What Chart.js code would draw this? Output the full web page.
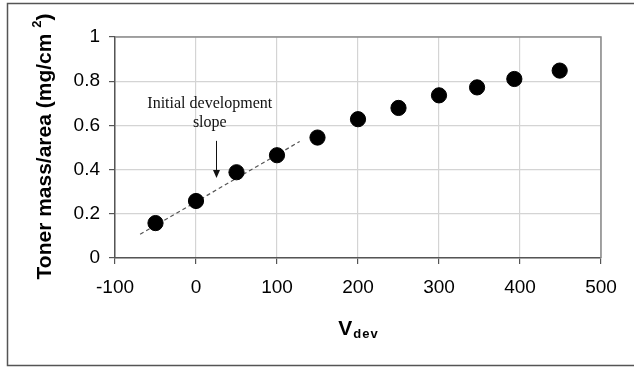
<!DOCTYPE html>
<html>
<head>
<meta charset="utf-8">
<script src="https://cdn.jsdelivr.net/npm/chart.js@4/dist/chart.umd.min.js"></script>
<style>
  html, body { margin: 0; padding: 0; background: #fff; }
  canvas { display: block; }
</style>
</head>
<body>
<canvas id="c" width="634" height="367"></canvas>
<script>
// Development voltage (V) and developed toner mass per area (mg/cm^2)
const vdev = [-50, 0, 50, 100, 150, 200, 250, 300, 347, 393, 449];
const tonerMass = [0.158, 0.258, 0.388, 0.465, 0.545, 0.628, 0.679, 0.736, 0.772, 0.81, 0.848];

// Initial development slope (dashed guide), end points in data units
const slopeX = [-69, 128];
const slopeY = [0.107, 0.527];

// Axis ticks
const xTicks = [-100, 0, 100, 200, 300, 400, 500];
const yTicks = [0, 0.2, 0.4, 0.6, 0.8, 1];
const yTickLabels = ['0', '0.2', '0.4', '0.6', '0.8', '1'];

// Annotation: label lines and arrow, in data units
const noteLines = ['Initial development', 'slope'];
const noteX = 17;
const noteY = [0.699, 0.611];
const arrowX = 25;
const arrowFromY = 0.53;
const arrowToY = 0.362;

const SANS = '"Liberation Sans", Arial, sans-serif';
const SERIF = '"Liberation Serif", "Times New Roman", serif';

const decorations = {
  id: 'decorations',
  beforeDraw(chart) {
    const ctx = chart.ctx;
    ctx.save();
    ctx.fillStyle = '#fff';
    ctx.fillRect(0, 0, chart.width, chart.height);
    // outer frame
    ctx.strokeStyle = '#555';
    ctx.lineWidth = 1.5;
    ctx.beginPath();
    ctx.moveTo(chart.width + 2, 3.5);
    ctx.lineTo(7.5, 3.5);
    ctx.lineTo(7.5, 365.5);
    ctx.lineTo(chart.width + 2, 365.5);
    ctx.stroke();
    ctx.restore();
  },
  beforeDatasetsDraw(chart) {
    const ctx = chart.ctx;
    const a = chart.chartArea;
    ctx.save();
    // top and right edges of the plot area
    ctx.strokeStyle = '#8a8a8a';
    ctx.lineWidth = 1.5;
    ctx.beginPath();
    ctx.moveTo(a.left, a.top);
    ctx.lineTo(a.right, a.top);
    ctx.lineTo(a.right, a.bottom);
    ctx.stroke();
    ctx.restore();
  },
  afterDraw(chart) {
    const ctx = chart.ctx;
    const a = chart.chartArea;
    const xs = chart.scales.x, ys = chart.scales.y;
    ctx.save();

    // y axis title with superscript
    const yMain = 'Toner mass/area (mg/cm ';
    const ySup = '2';
    const yEnd = ')';
    ctx.translate(45, (a.top + a.bottom) / 2 - 1);
    ctx.rotate(-Math.PI / 2);
    ctx.fillStyle = '#000';
    ctx.textBaseline = 'middle';
    ctx.font = 'bold 21px ' + SANS;
    const w1 = ctx.measureText(yMain).width;
    const w3 = ctx.measureText(yEnd).width;
    ctx.font = 'bold 13px ' + SANS;
    const w2 = ctx.measureText(ySup).width;
    let x0 = -(w1 + w2 + w3) / 2;
    ctx.font = 'bold 21px ' + SANS;
    ctx.textAlign = 'left';
    ctx.fillText(yMain, x0, 0);
    ctx.font = 'bold 13px ' + SANS;
    ctx.fillText(ySup, x0 + w1, -8);
    ctx.font = 'bold 21px ' + SANS;
    ctx.fillText(yEnd, x0 + w1 + w2, 0);
    ctx.setTransform(1, 0, 0, 1, 0, 0);

    // x axis title with subscript
    ctx.textBaseline = 'alphabetic';
    ctx.font = 'bold 21px ' + SANS;
    const vW = ctx.measureText('V').width;
    ctx.font = 'bold 13px ' + SANS;
    const dW = ctx.measureText('dev').width + 3;
    const cx = (a.left + a.right) / 2;
    let xx = cx - (vW + dW) / 2;
    ctx.font = 'bold 21px ' + SANS;
    ctx.fillText('V', xx, 335);
    ctx.font = 'bold 13px ' + SANS;
    ctx.letterSpacing = '1px';
    ctx.fillText('dev', xx + vW + 1, 338);
    ctx.letterSpacing = '0px';

    // annotation text
    ctx.font = '16px ' + SERIF;
    ctx.fillStyle = '#111';
    ctx.textAlign = 'center';
    ctx.textBaseline = 'middle';
    noteLines.forEach((t, i) => {
      ctx.fillText(t, xs.getPixelForValue(noteX), ys.getPixelForValue(noteY[i]));
    });

    // arrow
    const ax = Math.round(xs.getPixelForValue(arrowX)) + 0.5;
    const y1 = ys.getPixelForValue(arrowFromY);
    const y2 = ys.getPixelForValue(arrowToY);
    ctx.strokeStyle = '#111';
    ctx.lineWidth = 1;
    ctx.beginPath();
    ctx.moveTo(ax, y1);
    ctx.lineTo(ax, y2 - 6);
    ctx.stroke();
    ctx.fillStyle = '#111';
    ctx.beginPath();
    ctx.moveTo(ax - 3.5, y2 - 8);
    ctx.lineTo(ax + 3.5, y2 - 8);
    ctx.lineTo(ax, y2);
    ctx.closePath();
    ctx.fill();

    ctx.restore();
  }
};

new Chart(document.getElementById('c'), {
  type: 'scatter',
  data: {
    datasets: [
      {
        label: 'Toner mass/area',
        data: vdev.map((v, i) => ({ x: v, y: tonerMass[i] })),
        backgroundColor: '#000',
        borderColor: '#000',
        pointRadius: 7.6,
        pointHoverRadius: 7.6,
        order: 0
      },
      {
        type: 'line',
        label: 'Initial development slope',
        data: slopeX.map((v, i) => ({ x: v, y: slopeY[i] })),
        borderColor: '#555',
        borderWidth: 1.2,
        borderDash: [4, 3],
        pointRadius: 0,
        fill: false,
        order: 1
      }
    ]
  },
  options: {
    responsive: false,
    animation: false,
    events: [],
    layout: { padding: { left: 0, right: 33, top: 37, bottom: 0 } },
    plugins: {
      legend: { display: false },
      tooltip: { enabled: false },
      title: { display: false }
    },
    scales: {
      x: {
        type: 'linear',
        min: -100,
        max: 500,
        afterBuildTicks(scale) { scale.ticks = xTicks.map(v => ({ value: v })); },
        afterFit(scale) { scale.height = 109; },
        grid: {
          color: '#d4d4d4',
          lineWidth: 1.2,
          tickLength: 6,
          tickColor: '#555',
          drawOnChartArea: true
        },
        border: { color: '#555', width: 1.5 },
        ticks: {
          color: '#000',
          font: { family: SANS, size: 19 },
          padding: 12,
          maxRotation: 0,
          autoSkip: false
        }
      },
      y: {
        type: 'linear',
        min: 0,
        max: 1,
        afterBuildTicks(scale) { scale.ticks = yTicks.map(v => ({ value: v })); },
        afterFit(scale) { scale.width = 115; },
        grid: {
          color: '#d4d4d4',
          lineWidth: 1.2,
          tickLength: 6,
          tickColor: '#555'
        },
        border: { color: '#555', width: 1.5 },
        ticks: {
          color: '#000',
          font: { family: SANS, size: 19 },
          padding: 9,
          autoSkip: false,
          callback: (v) => yTickLabels[yTicks.indexOf(v)]
        }
      }
    }
  },
  plugins: [decorations]
});
</script>
</body>
</html>
